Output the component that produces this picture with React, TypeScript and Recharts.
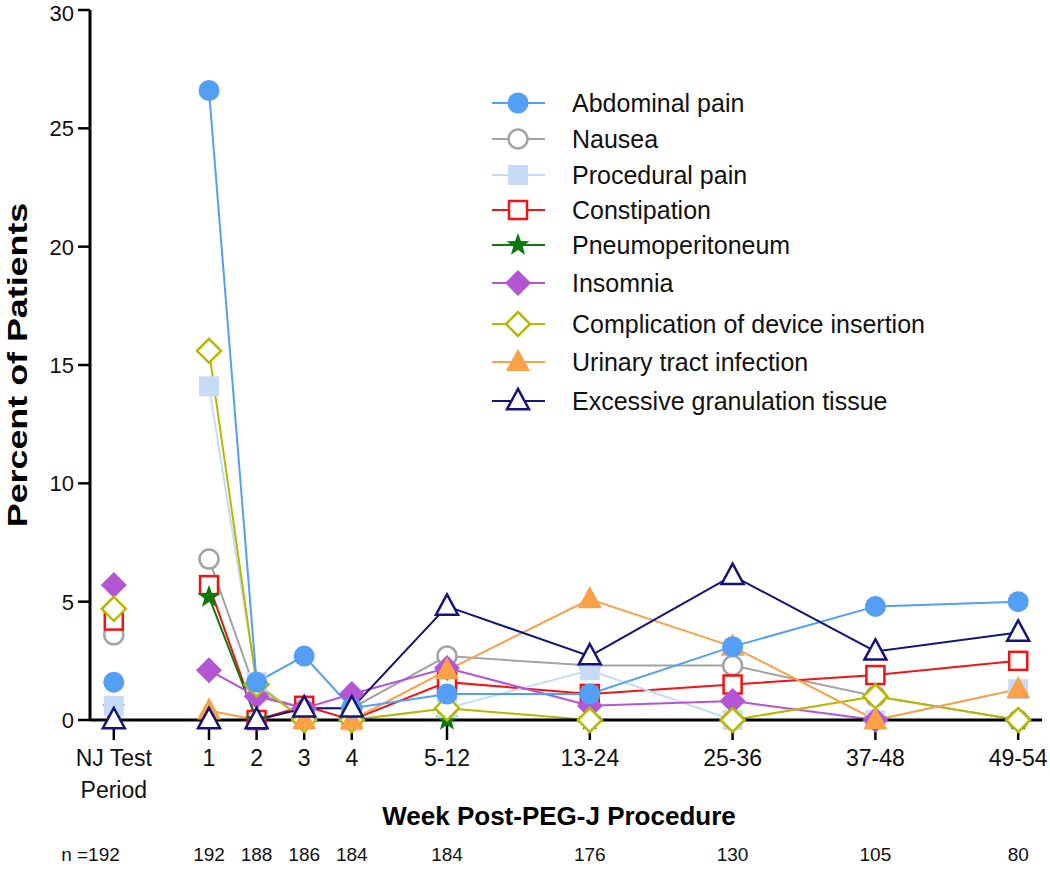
import React from "react"
import { LineChart, Line, XAxis, YAxis, Label } from "recharts"

// x position of each period on a week-like axis (NJ period sits left of week 1)
const xPos = [-1, 1, 2, 3, 4, 6, 9, 12, 15, 18]
const weekLabels = ["NJ Test Period", "1", "2", "3", "4", "5-12", "13-24", "25-36", "37-48", "49-54"]
const nCounts = [192, 192, 188, 186, 184, 184, 176, 130, 105, 80]
const yTicks = [0, 5, 10, 15, 20, 25, 30]

const abdominalPain = [1.6, 26.6, 1.6, 2.7, 0.5, 1.1, 1.1, 3.1, 4.8, 5.0]
const nausea = [3.6, 6.8, 1.1, 0.5, 0.5, 2.7, 2.3, 2.3, 1.0, 0]
const proceduralPain = [0.6, 14.1, 1.6, 0, 0, 0.5, 2.1, 0, 0, 1.3]
const constipation = [4.2, 5.7, 0, 0.6, 0, 1.6, 1.1, 1.5, 1.9, 2.5]
const pneumoperitoneum = [0.5, 5.2, 0, 0, 0, 0, 0, 0, 0, 0]
const insomnia = [5.7, 2.1, 1.0, 0.5, 1.1, 2.2, 0.6, 0.8, 0, 0]
const complication = [4.7, 15.6, 1.5, 0, 0, 0.5, 0, 0, 1.0, 0]
const urinaryInfection = [null, 0.4, 0, 0, 0, 2.1, 5.1, 3.1, 0, 1.3]
const granulation = [0, 0, 0, 0.5, 0.5, 4.8, 2.7, 6.1, 2.9, 3.7]

type Shape = "circle" | "square" | "star" | "diamond" | "triangle"

const series = [
  { key: "abdominal", name: "Abdominal pain", values: abdominalPain, color: "#539ff5", shape: "circle" as Shape, filled: true },
  { key: "nausea", name: "Nausea", values: nausea, color: "#a3a3a3", shape: "circle" as Shape, filled: false },
  { key: "procedural", name: "Procedural pain", values: proceduralPain, color: "#c6dcf6", shape: "square" as Shape, filled: true },
  { key: "constipation", name: "Constipation", values: constipation, color: "#f01414", shape: "square" as Shape, filled: false },
  { key: "pneumo", name: "Pneumoperitoneum", values: pneumoperitoneum, color: "#0b7a0b", shape: "star" as Shape, filled: true },
  { key: "insomnia", name: "Insomnia", values: insomnia, color: "#b455d6", shape: "diamond" as Shape, filled: true },
  { key: "complication", name: "Complication of device insertion", values: complication, color: "#b8b800", shape: "diamond" as Shape, filled: false },
  { key: "uti", name: "Urinary tract infection", values: urinaryInfection, color: "#f9a146", shape: "triangle" as Shape, filled: true },
  { key: "granulation", name: "Excessive granulation tissue", values: granulation, color: "#14147a", shape: "triangle" as Shape, filled: false },
]

// draw order so overlaps look like the original
const drawOrder = ["nausea", "constipation", "pneumo", "procedural", "insomnia", "complication", "uti", "abdominal", "granulation"]

// rows; a null row between NJ and week 1 breaks the lines
const data: any[] = []
xPos.forEach((x, i) => {
  const row: any = { x }
  series.forEach((s) => (row[s.key] = s.values[i]))
  data.push(row)
  if (i === 0) data.push({ x: 0 })
})

const FONT = "'Liberation Sans', Arial, Helvetica, sans-serif"

function Marker({ shape, color, filled, cx, cy }: { shape: Shape; color: string; filled: boolean; cx: number; cy: number }) {
  const fill = filled ? color : "#fff"
  const stroke = color
  const sw = filled ? 0 : 2.5
  if (shape === "circle") return <circle cx={cx} cy={cy} r={filled ? 10.5 : 9.5} fill={fill} stroke={stroke} strokeWidth={sw} />
  if (shape === "square") {
    const h = filled ? 10 : 9
    return <rect x={cx - h} y={cy - h} width={h * 2} height={h * 2} fill={fill} stroke={stroke} strokeWidth={sw} />
  }
  if (shape === "diamond") {
    const h = filled ? 13 : 12
    return <polygon points={`${cx},${cy - h} ${cx + h},${cy} ${cx},${cy + h} ${cx - h},${cy}`} fill={fill} stroke={stroke} strokeWidth={sw} />
  }
  if (shape === "triangle") {
    const h = filled ? 12 : 11
    return (
      <polygon
        points={`${cx},${cy - h * 1.1} ${cx + h},${cy + h * 0.75} ${cx - h},${cy + h * 0.75}`}
        fill={fill}
        stroke={stroke}
        strokeWidth={sw}
      />
    )
  }
  // star
  const pts: string[] = []
  for (let k = 0; k < 10; k++) {
    const r = k % 2 === 0 ? 12 : 5
    const a = -Math.PI / 2 + (k * Math.PI) / 5
    pts.push(`${cx + r * Math.cos(a)},${cy + r * Math.sin(a)}`)
  }
  return <polygon points={pts.join(" ")} fill={fill} />
}

const makeDot = (s: (typeof series)[number]) => (props: any) => {
  const { cx, cy, value, index } = props
  if (value == null || cx == null || cy == null) return <g key={`${s.key}-${index}`} />
  return (
    <g key={`${s.key}-${index}`}>
      <Marker shape={s.shape} color={s.color} filled={s.filled} cx={cx} cy={cy} />
    </g>
  )
}

const WeekTick = (props: any) => {
  const { x, y, payload } = props
  const i = xPos.indexOf(payload.value)
  if (i < 0) return <g />
  const label = weekLabels[i]
  return (
    <g fontFamily={FONT} fill="#111">
      {i === 0 ? (
        <>
          <text x={x} y={y + 26} textAnchor="middle" fontSize={23}>NJ Test</text>
          <text x={x} y={y + 58} textAnchor="middle" fontSize={23}>Period</text>
          <text x={x + 6} y={y + 121} textAnchor="end" fontSize={19}>n =192</text>
        </>
      ) : (
        <>
          <text x={x} y={y + 26} textAnchor="middle" fontSize={23}>{label}</text>
          <text x={x} y={y + 121} textAnchor="middle" fontSize={19}>{nCounts[i]}</text>
        </>
      )}
    </g>
  )
}

const PercentTick = (props: any) => {
  const { x, y, payload } = props
  // top label sits a touch lower so it stays inside the picture
  const shift = payload.value === 30 ? 3 : 0
  return (
    <text x={x} y={y + 8 + shift} textAnchor="end" fontFamily={FONT} fontSize={22} fill="#111">
      {payload.value}
    </text>
  )
}

const YTitle = (props: any) => {
  const vb = props.viewBox || { y: 10, height: 710 }
  const cy = vb.y + vb.height / 2
  return (
    <text
      transform={`translate(27, ${cy}) rotate(-90) scale(1.28, 1)`}
      textAnchor="middle"
      fontFamily={FONT}
      fontSize={28}
      fontWeight="bold"
      fill="#000"
    >
      Percent of Patients
    </text>
  )
}

function LegendBox() {
  const rows = [103, 139, 175, 210, 245, 283, 324, 362, 401]
  return (
    <svg width={1050} height={874} style={{ position: "absolute", left: 0, top: 0, pointerEvents: "none" }}>
      {series.map((s, i) => (
        <g key={s.key}>
          <line x1={492} x2={545} y1={rows[i]} y2={rows[i]} stroke={s.color} strokeWidth={2} />
          <Marker shape={s.shape} color={s.color} filled={s.filled} cx={518} cy={rows[i]} />
          <text x={572} y={rows[i] + 9} fontFamily={FONT} fontSize={25} fill="#111">
            {s.name}
          </text>
        </g>
      ))}
    </svg>
  )
}

export default function App() {
  const ordered = drawOrder.map((k) => series.find((s) => s.key === k)!)
  return (
    <div style={{ position: "relative", width: 1050, height: 874, background: "#fff" }}>
      <style>{"body{margin:0}"}</style>
      <LineChart width={1050} height={874} data={data} margin={{ top: 10, right: 8, left: 0, bottom: 0 }}>
        <XAxis
          dataKey="x"
          type="number"
          domain={[-1.5, 18.5]}
          ticks={xPos}
          interval={0}
          tick={<WeekTick />}
          tickSize={20}
          tickMargin={0}
          height={154}
          axisLine={{ stroke: "#000", strokeWidth: 3 }}
          tickLine={{ stroke: "#000", strokeWidth: 2.5 }}
        >
          <Label
            value="Week Post-PEG-J Procedure"
            position="insideBottom"
            offset={49}
            dx={-7}
            style={{ fontFamily: FONT, fontSize: 26, fontWeight: "bold", fill: "#000" }}
          />
        </XAxis>
        <YAxis
          type="number"
          domain={[0, 30]}
          ticks={yTicks}
          interval={0}
          width={90}
          tickSize={12}
          tickMargin={4}
          axisLine={{ stroke: "#000", strokeWidth: 3 }}
          tickLine={{ stroke: "#000", strokeWidth: 2.5 }}
          tick={<PercentTick />}
        >
          <Label content={<YTitle />} />
        </YAxis>
        {ordered.map((s) => (
          <Line
            key={s.key}
            type="linear"
            dataKey={s.key}
            stroke={s.color}
            strokeWidth={2}
            dot={makeDot(s)}
            activeDot={false}
            connectNulls={false}
            isAnimationActive={false}
          />
        ))}
      </LineChart>
      <LegendBox />
    </div>
  )
}
